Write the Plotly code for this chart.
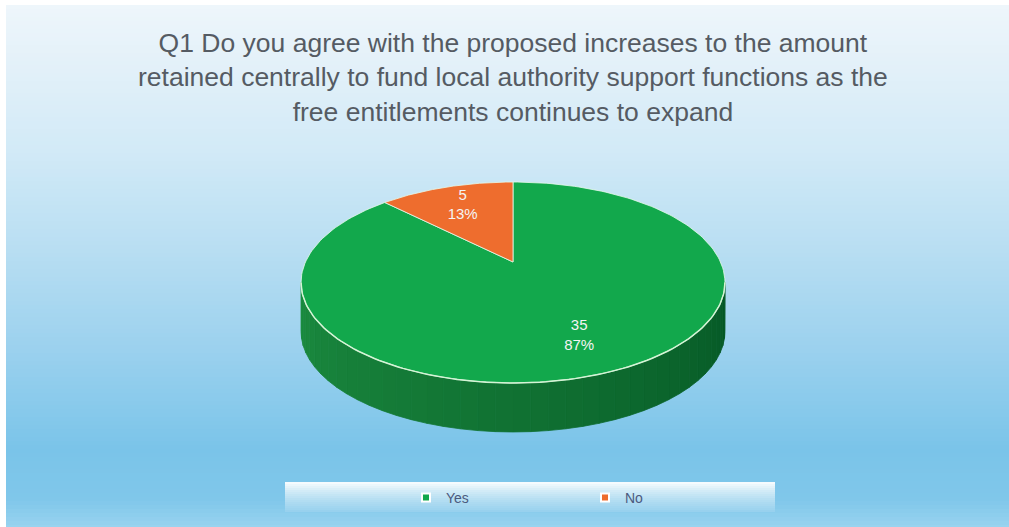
import numpy as np
import plotly.graph_objects as go

# ---- data ----
categories = ["Yes", "No"]
values = [35, 5]
pct_labels = ["87%", "13%"]
colors = ["#12A84C", "#EE6D2E"]
title_text = ("Q1 Do you agree with the proposed increases to the amount<br>"
              "retained centrally to fund local authority support functions as the<br>"
              "free entitlements continues to expand")

W, H = 1009, 527

# ---- projection of a tilted disc (pixel space) ----
CX, CY = 513.0, 262.0      # projected centre
A, B, P = 207.5, 96.3, 0.204  # half-width, half-depth, perspective
DEPTH = 49.0


def proj(psi_deg, r=1.0, dz=0.0):
    psi = np.radians(psi_deg)
    u = r * np.sin(psi)
    v = r * np.cos(psi)
    d = 1 + P * v
    return CX + A * u / d, CY - B * v / d + dz


fig = go.Figure()

# background gradient
stops_y = [5, 60, 150, 250, 350, 450, 500, 527]
stops_c = [(238, 246, 251), (228, 241, 249), (210, 234, 247), (184, 222, 242),
           (155, 209, 238), (122, 196, 233), (128, 199, 234), (152, 211, 239)]
shapes = []
ys = np.arange(5, 527, 4)
for y0 in ys:
    y1 = min(y0 + 4, 527)
    c = [np.interp(y0 + 2, stops_y, [s[i] for s in stops_c]) for i in range(3)]
    shapes.append(dict(type="rect", xref="x", yref="y", x0=6, x1=W, y0=y0, y1=y1,
                       fillcolor="rgb(%d,%d,%d)" % tuple(int(round(k)) for k in c),
                       line=dict(width=0), layer="below"))
# legend band
lb_y = [482, 486, 492, 500, 512]
lb_c = [(250, 253, 255), (232, 245, 251), (206, 233, 246), (180, 222, 242), (150, 208, 238)]
for y0 in range(482, 512, 2):
    c = [np.interp(y0 + 1, lb_y, [s[i] for s in lb_c]) for i in range(3)]
    shapes.append(dict(type="rect", xref="x", yref="y", x0=285, x1=775, y0=y0, y1=y0 + 2,
                       fillcolor="rgb(%d,%d,%d)" % tuple(int(round(k)) for k in c),
                       line=dict(width=0), layer="below"))

# slice angles (clockwise from 12 o'clock)
total = sum(values)
starts, ends = [], []
acc = 0.0
for v in values:
    starts.append(acc / total * 360)
    acc += v
    ends.append(acc / total * 360)

# side wall (visible front part), gradient shading
psi_l = 180 - np.degrees(np.arccos(P))  # right silhouette
psi_r = 360 - psi_l                      # left silhouette
nseg = 40
edges = np.linspace(psi_l, psi_r, nseg + 1)
dark = np.array([6, 88, 38])
light = np.array([28, 140, 64])
for i in range(nseg):
    a0, a1 = edges[i], edges[i + 1]
    arc = np.linspace(a0, a1, 6)
    xt, yt = proj(arc)
    xb, yb = proj(arc[::-1], dz=DEPTH)
    t = (0.5 * (a0 + a1) - psi_l) / (psi_r - psi_l)
    c = dark + (light - dark) * t
    col = "rgb(%d,%d,%d)" % tuple(int(k) for k in c)
    fig.add_trace(go.Scatter(x=np.r_[xt, xb, xt[0]], y=np.r_[yt, yb, yt[0]],
                             fill="toself", fillcolor=col, mode="lines",
                             line=dict(width=0.8, color=col),
                             hoverinfo="skip", showlegend=False))

# top faces
for cat, v, s, e, col in zip(categories, values, starts, ends, colors):
    arc = np.linspace(s, e, 200)
    x, y = proj(arc)
    fig.add_trace(go.Scatter(x=np.r_[CX, x, CX], y=np.r_[CY, y, CY],
                             fill="toself", fillcolor=col, mode="lines",
                             line=dict(width=1, color="rgba(230,250,235,0.8)"),
                             name=cat, hoverinfo="name", showlegend=False))

# rim highlight on the front edge
arc = np.linspace(psi_l, psi_r, 120)
xr, yr = proj(arc)
fig.add_trace(go.Scatter(x=xr, y=yr, mode="lines",
                         line=dict(width=1.5, color="rgba(215,245,215,0.95)"),
                         hoverinfo="skip", showlegend=False))

# data labels
lx, ly, lt = [], [], []
for v, p, s, e in zip(values, pct_labels, starts, ends):
    x, y = proj(0.5 * (s + e), r=0.72)
    lx.append(float(x)); ly.append(float(y)); lt.append(f"{v}<br>{p}")
fig.add_trace(go.Scatter(x=lx, y=ly, mode="text", text=lt,
                         textfont=dict(size=15, color="#F4F4F4", family="Liberation Sans"),
                         hoverinfo="skip", showlegend=False))

# legend entries
for cat, col in zip(categories, colors):
    fig.add_trace(go.Scatter(x=[None], y=[None], mode="markers", name=cat,
                             marker=dict(symbol="square", size=8, color=col,
                                         line=dict(width=2, color="white"))))

fig.update_layout(
    width=W, height=H,
    margin=dict(l=0, r=0, t=0, b=0),
    paper_bgcolor="white", plot_bgcolor="rgba(0,0,0,0)",
    xaxis=dict(range=[0, W], visible=False, fixedrange=True),
    yaxis=dict(range=[H, 0], visible=False, fixedrange=True),
    shapes=shapes,
    showlegend=True,
    legend=dict(orientation="h", x=406 / W, y=1 - 498 / H, xanchor="left", yanchor="middle",
                bgcolor="rgba(0,0,0,0)", font=dict(size=14, color="#4B5A7E",
                                                    family="Liberation Sans"),
                entrywidth=134, entrywidthmode="pixels", itemwidth=30),
    annotations=[dict(text=title_text, xref="x", yref="y", x=513, y=26,
                      xanchor="center", yanchor="top", showarrow=False, align="center",
                      font=dict(size=26.5, color="#555B63", family="Liberation Sans"))],
)

fig.write_html("out.html")
